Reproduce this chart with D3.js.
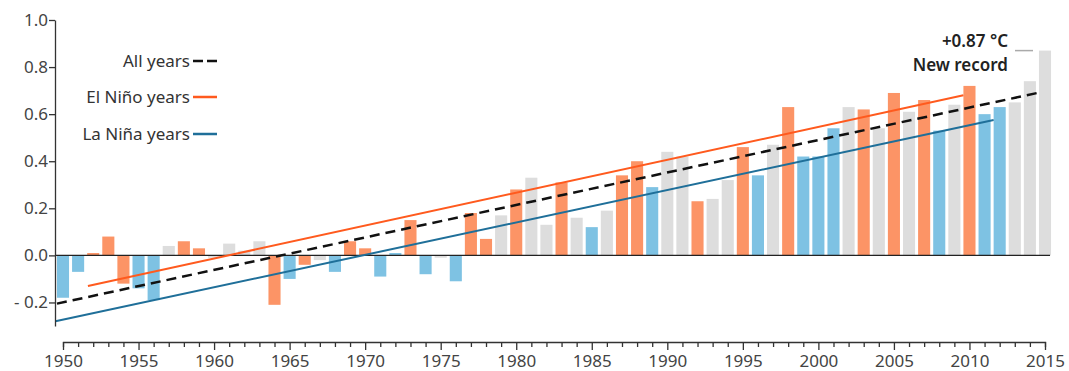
<!DOCTYPE html>
<html>
<head>
<meta charset="utf-8">
<script src="https://cdn.jsdelivr.net/npm/d3@7"></script>
<style>
  body { margin: 0; background: #fff; }
  svg { display: block; font-family: "Noto Sans", sans-serif; }
</style>
</head>
<body>
<svg id="graph" width="1069" height="371"></svg>
<script>
// années et anomalies de température (°C)
const annees = d3.range(1950, 2016);
const anomalies = [
  -0.18, -0.07, 0.01, 0.08, -0.12, -0.14, -0.19, 0.04, 0.06, 0.03,
  -0.01, 0.05, 0.02, 0.06, -0.21, -0.10, -0.04, -0.02, -0.07, 0.06,
  0.03, -0.09, 0.01, 0.15, -0.08, -0.01, -0.11, 0.18, 0.07, 0.17,
  0.28, 0.33, 0.13, 0.31, 0.16, 0.12, 0.19, 0.34, 0.40, 0.29,
  0.44, 0.42, 0.23, 0.24, 0.32, 0.46, 0.34, 0.47, 0.63, 0.42,
  0.42, 0.54, 0.63, 0.62, 0.54, 0.69, 0.61, 0.66, 0.53, 0.64,
  0.72, 0.60, 0.63, 0.65, 0.74, 0.87
];
// N = El Niño, L = La Niña, - = neutre
const phases = (
  "LLNNNLL-NN" +
  "----NLN-LN" +
  "NLLNL-LNN-" +
  "N--N-L-NNL" +
  "--N--NL-NL" +
  "LL-N-N-NL-" +
  "NLL---"
).split("");

// droites de tendance [année, valeur]
const tendanceTous = [[1949.6, -0.205], [2014.5, 0.69]];
const tendanceNino = [[1951.65, -0.13], [2009.6, 0.68]];
const tendanceNina = [[1949.5, -0.28], [2011.6, 0.575]];

const yTicks = [-0.2, 0, 0.2, 0.4, 0.6, 0.8, 1.0];

const couleurs = { N: "#fc9466", L: "#7ec2e3", "-": "#dddddd" };

const donnees = annees.map((a, i) => ({ annee: a, val: anomalies[i], phase: phases[i] }));

const svg = d3.select("#graph");

const x = d3.scaleLinear().domain([1950, 2015]).range([63, 1045]);
const y = d3.scaleLinear().domain([-0.3, 1.0]).range([326, 20]);
const largeur_barre = (x(1951) - x(1950)) * 0.8;

// barres
svg.append("g")
  .selectAll("rect")
  .data(donnees)
  .join("rect")
  .attr("x", d => x(d.annee) - largeur_barre / 2)
  .attr("width", largeur_barre)
  .attr("y", d => y(Math.max(0, d.val)))
  .attr("height", d => Math.abs(y(d.val) - y(0)))
  .attr("fill", d => couleurs[d.phase]);

// ligne du zéro
svg.append("line")
  .attr("x1", 55).attr("x2", 1050)
  .attr("y1", y(0)).attr("y2", y(0))
  .attr("stroke", "#222").attr("stroke-width", 1.3);

// tendances
const ligne = d3.line().x(d => x(d[0])).y(d => y(d[1]));
svg.append("path").datum(tendanceNino).attr("d", ligne)
  .attr("fill", "none").attr("stroke", "#ff5a1e").attr("stroke-width", 2);
svg.append("path").datum(tendanceNina).attr("d", ligne)
  .attr("fill", "none").attr("stroke", "#1f6f99").attr("stroke-width", 2);
svg.append("path").datum(tendanceTous).attr("d", ligne)
  .attr("fill", "none").attr("stroke", "#111").attr("stroke-width", 2.5)
  .attr("stroke-dasharray", "10,6");

// axe y
const axeY = svg.append("g")
  .attr("transform", "translate(55,0)")
  .call(d3.axisLeft(y).tickValues(yTicks).tickSize(6).tickSizeOuter(0)
    .tickFormat(d => d < 0 ? "- " + Math.abs(d).toFixed(1) : d.toFixed(1)));
axeY.select(".domain").attr("stroke", "#333").attr("stroke-width", 1.3);
axeY.selectAll(".tick line").attr("stroke", "#333").attr("stroke-width", 1.3);
axeY.selectAll(".tick text").attr("fill", "#444").attr("font-size", 17)
  .attr("font-family", "Noto Sans").attr("x", -7);

// axe x
const axeX = svg.append("g")
  .attr("transform", "translate(0,342)")
  .call(d3.axisBottom(x).tickValues(annees).tickSizeOuter(0)
    .tickSize(5)
    .tickFormat(d => d % 5 === 0 ? d : ""));
axeX.select(".domain").attr("stroke", "#333").attr("stroke-width", 1.3);
axeX.selectAll(".tick line").attr("stroke", "#333").attr("stroke-width", 1.3)
  .attr("y2", d => d % 5 === 0 ? 8 : 5);
axeX.selectAll(".tick text").attr("fill", "#444").attr("font-size", 17)
  .attr("font-family", "Noto Sans").attr("y", 13);

// légende
const legende = [
  { label: "All years", y: 61, couleur: "#111", dash: "10,4" },
  { label: "El Niño years", y: 97, couleur: "#ff5a1e", dash: null },
  { label: "La Niña years", y: 134, couleur: "#1f6f99", dash: null }
];
const leg = svg.append("g").selectAll("g").data(legende).join("g");
leg.append("text")
  .attr("x", 190).attr("y", d => d.y + 6)
  .attr("text-anchor", "end").attr("font-size", 17).attr("fill", "#333")
  .text(d => d.label);
leg.append("line")
  .attr("x1", 193).attr("x2", 217)
  .attr("y1", d => d.y).attr("y2", d => d.y)
  .attr("stroke", d => d.couleur).attr("stroke-width", 2.5)
  .attr("stroke-dasharray", d => d.dash);

// annotation du record
svg.append("text").attr("x", 1008).attr("y", 47).attr("text-anchor", "end")
  .attr("font-size", 17).attr("font-weight", 600).attr("fill", "#222")
  .text("+0.87 °C");
svg.append("text").attr("x", 1008).attr("y", 71).attr("text-anchor", "end")
  .attr("font-size", 17).attr("font-weight", 600).attr("fill", "#222")
  .text("New record");
svg.append("line")
  .attr("x1", 1015).attr("x2", 1033)
  .attr("y1", y(0.87)).attr("y2", y(0.87))
  .attr("stroke", "#aaa").attr("stroke-width", 1.5);
</script>
</body>
</html>
